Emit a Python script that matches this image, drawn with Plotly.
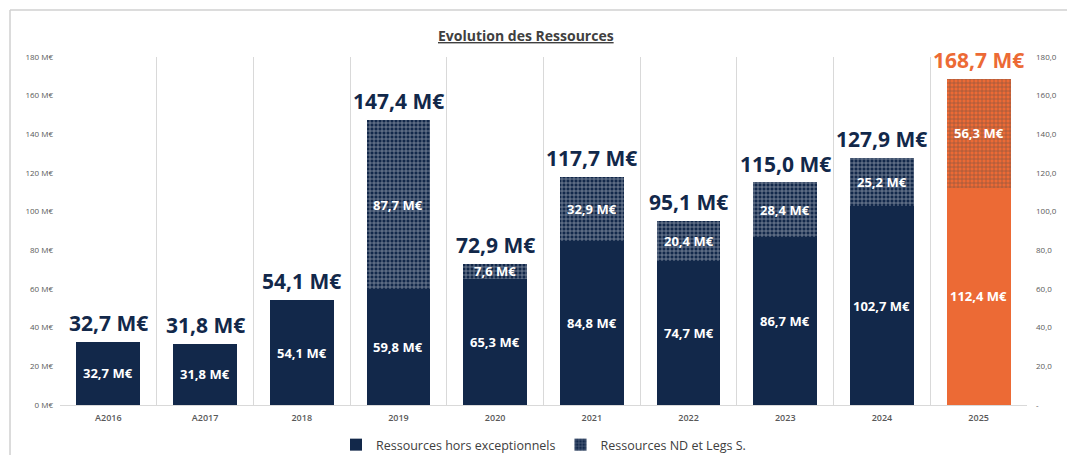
import plotly.graph_objects as go

years = ["A2016", "A2017", "2018", "2019", "2020", "2021", "2022", "2023", "2024", "2025"]
base_vals = [32.7, 31.8, 54.1, 59.8, 65.3, 84.8, 74.7, 86.7, 102.7, 112.4]
nd_vals = [None, None, None, 87.7, 7.6, 32.9, 20.4, 28.4, 25.2, 56.3]
totals = [32.7, 31.8, 54.1, 147.4, 72.9, 117.7, 95.1, 115.0, 127.9, 168.7]
left_ticks = [0, 20, 40, 60, 80, 100, 120, 140, 160, 180]
left_ticktext = ["0 M€", "20 M€", "40 M€", "60 M€", "80 M€", "100 M€", "120 M€", "140 M€", "160 M€", "180 M€"]
right_ticktext = ["-", "20,0", "40,0", "60,0", "80,0", "100,0", "120,0", "140,0", "160,0", "180,0"]

NAVY = "#12284a"
ORANGE = "#ec6a35"
FONT = "Open Sans"

def fmt(v):
    return f"{v:.1f}".replace(".", ",") + " M€"

base_colors = [ORANGE if y == "2025" else NAVY for y in years]
nd_fg = ["#f6c9b3" if y == "2025" else "#9aa6ba" for y in years]

fig = go.Figure()
fig.add_trace(go.Bar(
    x=years, y=base_vals, name="Ressources hors exceptionnels",
    marker=dict(color=base_colors, line=dict(width=0)),
    hoverinfo="skip",
))
fig.add_trace(go.Bar(
    x=years, y=nd_vals, name="Ressources ND et Legs S.",
    marker=dict(color=base_colors, line=dict(width=0),
                pattern=dict(shape="+", fgcolor=nd_fg, size=4, solidity=0.35)),
    hoverinfo="skip",
))
fig.add_trace(go.Scatter(x=years, y=[None] * len(years), yaxis="y2", showlegend=False, hoverinfo="skip"))

annotations = []
for i, y in enumerate(years):
    annotations.append(dict(x=i, y=base_vals[i] / 2, text=f"<b>{fmt(base_vals[i])}</b>",
                            showarrow=False, font=dict(family=FONT, size=13, color="white")))
    if nd_vals[i]:
        annotations.append(dict(x=i, y=base_vals[i] + nd_vals[i] / 2, text=f"<b>{fmt(nd_vals[i])}</b>",
                                showarrow=False, font=dict(family=FONT, size=13, color="white")))
    annotations.append(dict(x=i, y=totals[i], text=f"<b>{fmt(totals[i])}</b>", showarrow=False,
                            yanchor="bottom", yshift=3,
                            font=dict(family=FONT, size=21, color=ORANGE if y == "2025" else NAVY)))

annotations.append(dict(xref="paper", yref="paper", x=0.4819, y=1.062, text="<b><u>Evolution des Ressources</u></b>",
                        showarrow=False, xanchor="center", yanchor="middle",
                        font=dict(family=FONT, size=14, color="#404040")))

fig.update_layout(
    width=1067, height=447,
    margin=dict(l=52, r=48, t=49, b=50, autoexpand=False),
    paper_bgcolor="white", plot_bgcolor="white",
    barmode="stack", bargap=0.34,
    font=dict(family=FONT, color="#595959"),
    xaxis=dict(type="category", range=[-0.5, 9.5], tickson="boundaries", showgrid=True,
               gridcolor="#d9d9d9", gridwidth=1, showline=True, linecolor="#d9d9d9",
               ticks="", tickfont=dict(family=FONT, size=9, color="#595959", weight=600),
               ticklabelstandoff=4, zeroline=False),
    yaxis=dict(range=[0, 180], tickvals=left_ticks, ticktext=left_ticktext, showgrid=False,
               zeroline=False, showline=False, ticks="",
               tickfont=dict(family=FONT, size=8, color="#595959"), ticklabelstandoff=6),
    yaxis2=dict(range=[0, 180], overlaying="y", side="right", tickvals=left_ticks, ticktext=right_ticktext,
                showgrid=False, zeroline=False, showline=False, ticks="",
                tickfont=dict(family=FONT, size=8, color="#595959"), ticklabelstandoff=8),
    legend=dict(orientation="h", x=0.5, xanchor="center", y=-0.115, yanchor="middle",
                font=dict(family=FONT, size=12.5, color="#404040"), itemwidth=30,
                traceorder="normal"),
    annotations=annotations,
    shapes=[
        dict(type="line", xref="paper", yref="paper", x0=-0.0517, x1=1.06, y0=1.135, y1=1.135,
             line=dict(color="#d0d0d0", width=1.5)),
        dict(type="line", xref="paper", yref="paper", x0=-0.0517, x1=-0.0517, y0=-0.2, y1=1.135,
             line=dict(color="#d0d0d0", width=1.5)),
    ],
)

fig.write_html("out.html")
